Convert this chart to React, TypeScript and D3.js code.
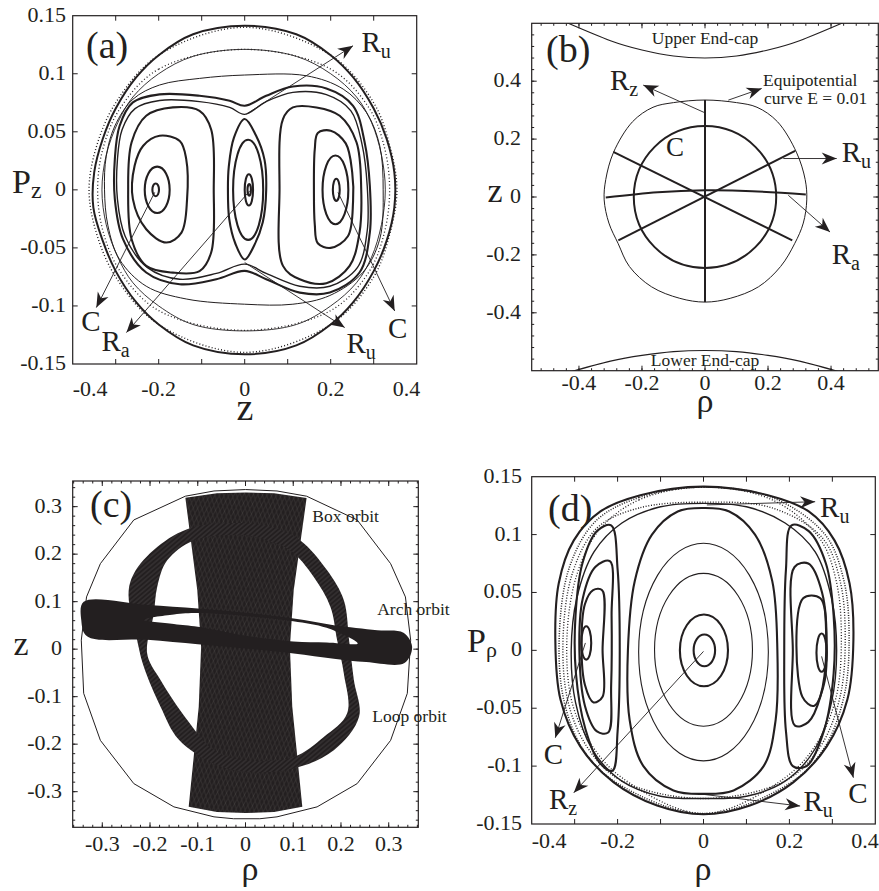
import React from 'react';
import * as d3 from 'd3';

type Pt = [number, number];

const FONT = '"Liberation Serif", "Times New Roman", serif';
const INK = '#231f20';

// ---------------- panel (a): z vs Pz ----------------
const aXTicks = [-0.3, -0.2, -0.1, 0, 0.1, 0.2, 0.3];
const aXLabels = [-0.4, -0.2, 0, 0.2, 0.4];
const aYTicks = [-0.1, -0.05, 0, 0.05, 0.1];
const aYLabels = [-0.15, -0.1, -0.05, 0, 0.05, 0.1, 0.15];

const aOuter: Pt[] = [[0, 0.1414], [-0.12, 0.134], [-0.2, 0.116], [-0.252, 0.097], [-0.3, 0.07], [-0.33, 0.044], [-0.35, 0.015], [-0.352, -0.015], [-0.33, -0.044], [-0.3, -0.07], [-0.252, -0.097], [-0.2, -0.116], [-0.12, -0.134], [0, -0.1417], [0.12, -0.134], [0.2, -0.116], [0.252, -0.097], [0.3, -0.07], [0.33, -0.044], [0.348, -0.015], [0.348, 0.015], [0.33, 0.044], [0.3, 0.07], [0.252, 0.097], [0.2, 0.116], [0.12, 0.134]];
const aDots1: Pt[] = [[0, 0.14], [-0.2, 0.116], [-0.3, 0.075], [-0.345, 0.037], [-0.362, 0], [-0.345, -0.037], [-0.3, -0.075], [-0.2, -0.116], [0, -0.14], [0.2, -0.116], [0.3, -0.075], [0.338, -0.037], [0.354, 0], [0.338, 0.037], [0.3, 0.075], [0.2, 0.116]];
const aDots2: Pt[] = [[0, 0.121], [-0.2, 0.104], [-0.29, 0.07], [-0.33, 0.035], [-0.342, 0], [-0.33, -0.035], [-0.29, -0.07], [-0.2, -0.104], [0, -0.121], [0.2, -0.104], [0.29, -0.07], [0.326, -0.035], [0.337, 0], [0.326, 0.035], [0.29, 0.07], [0.2, 0.104]];
const aRing2: Pt[] = [[0, 0.121], [-0.12, 0.115], [-0.2, 0.1], [-0.26, 0.08], [-0.295, 0.058], [-0.322, 0.03], [-0.332, 0], [-0.322, -0.03], [-0.295, -0.058], [-0.26, -0.08], [-0.2, -0.1], [-0.12, -0.116], [0, -0.1215], [0.12, -0.116], [0.2, -0.1], [0.26, -0.08], [0.295, -0.058], [0.318, -0.03], [0.327, 0], [0.318, 0.03], [0.295, 0.058], [0.26, 0.08], [0.2, 0.1], [0.12, 0.115]];
const aRing3: Pt[] = [[0, 0.0989], [-0.105, 0.096], [-0.198, 0.0903], [-0.26, 0.078], [-0.302, 0.055], [-0.322, 0.029], [-0.326, 0], [-0.318, -0.031], [-0.291, -0.06], [-0.229, -0.083], [-0.136, -0.094], [0, -0.0985], [0.112, -0.0985], [0.198, -0.091], [0.275, -0.071], [0.314, -0.0425], [0.322, 0], [0.314, 0.038], [0.283, 0.0667], [0.229, 0.0868], [0.143, 0.0983]];
const aSep: Pt[] = [[0, 0.0724], [-0.035, 0.0767], [-0.105, 0.081], [-0.198, 0.0822], [-0.26, 0.0753], [-0.291, 0.055], [-0.302, 0.0265], [-0.302, -0.008], [-0.283, -0.0425], [-0.229, -0.0712], [-0.151, -0.0813], [-0.066, -0.077], [0, -0.0698], [0.05, -0.077], [0.128, -0.0885], [0.198, -0.0885], [0.267, -0.0712], [0.291, -0.0368], [0.291, 0.0035], [0.279, 0.0408], [0.252, 0.0724], [0.19, 0.0874], [0.112, 0.089], [0.05, 0.081]];
const aSepInner: Pt[] = [[0, 0.065], [-0.035, 0.071], [-0.105, 0.076], [-0.198, 0.077], [-0.255, 0.07], [-0.285, 0.052], [-0.296, 0.026], [-0.296, -0.008], [-0.278, -0.04], [-0.226, -0.067], [-0.151, -0.077], [-0.066, -0.072], [0, -0.064], [0.05, -0.072], [0.128, -0.083], [0.198, -0.083], [0.262, -0.067], [0.285, -0.035], [0.285, 0.003], [0.273, 0.039], [0.247, 0.068], [0.19, 0.082], [0.112, 0.084], [0.05, 0.076]];
const aLobeL1: Pt[] = [[-0.167, 0.071], [-0.105, 0.068], [-0.078, 0.052], [-0.072, 0], [-0.078, -0.054], [-0.105, -0.07], [-0.167, -0.0713], [-0.229, -0.0655], [-0.263, -0.0425], [-0.271, 0], [-0.263, 0.041], [-0.229, 0.0638]];
const aLobeL2: Pt[] = [[-0.198, 0.0466], [-0.151, 0.042], [-0.136, 0.0265], [-0.134, -0.008], [-0.147, -0.0368], [-0.182, -0.0454], [-0.229, -0.0339], [-0.26, -0.008], [-0.256, 0.0207], [-0.236, 0.038]];
const aLobeM1: Pt[] = [[0, 0.061], [-0.025, 0.045], [-0.037, 0.02], [-0.039, 0], [-0.036, -0.025], [-0.022, -0.046], [0, -0.06], [0.022, -0.048], [0.042, -0.028], [0.05, 0], [0.046, 0.026], [0.026, 0.047]];
const aLobeR1: Pt[] = [[0.112, 0.071], [0.089, 0.061], [0.081, 0], [0.089, -0.0655], [0.128, -0.077], [0.19, -0.0804], [0.244, -0.0655], [0.267, -0.0368], [0.271, 0], [0.26, 0.041], [0.221, 0.0638], [0.167, 0.071]];
const aLobeR2: Pt[] = [[0.163, 0.035], [0.17, 0.049], [0.2, 0.051], [0.235, 0.04], [0.25, 0.015], [0.252, -0.01], [0.24, -0.04], [0.2, -0.05], [0.17, -0.046], [0.163, -0.03], [0.161, 0]];
// small islands: [centre z, centre Pz, half-width, half-height]
const aIslands: [number, number, number, number][] = [[-0.2035, 0, 0.029, 0.02], [-0.207, 0, 0.0077, 0.0055], [0.008, 0, 0.035, 0.0431], [0.0097, 0, 0.0097, 0.0135], [0.0105, 0, 0.004, 0.005], [0.211, 0, 0.03, 0.0296], [0.213, 0, 0.008, 0.0095]];
const aArrows: [Pt, Pt][] = [[[0.004, 0.0653], [0.2519, 0.1241]], [[0, -0.0626], [0.2326, -0.1186]], [[-0.2093, -0.0022], [-0.345, -0.1014]], [[0.0116, -0.0009], [-0.275, -0.1229]], [[0.217, -0.0022], [0.3488, -0.1043]]];
const aTags: [string, string, number, number][] = [['R', 'u', 0.2714, 0.1187], ['R', 'u', 0.2365, -0.1402], ['C', '', -0.38, -0.1216], ['R', 'a', -0.3333, -0.1388], ['C', '', 0.3333, -0.1272]];

// ---------------- panel (b): rho vs z ----------------
const bXLabels = [-0.4, -0.2, 0, 0.2, 0.4];
const bYLabels = [-0.4, -0.2, 0, 0.2, 0.4];
const bEquip: Pt[] = [[0, 0.335], [0.1, 0.326], [0.165, 0.31], [0.23, 0.26], [0.29, 0.155], [0.318, 0.06], [0.323, -0.01], [0.312, -0.09], [0.285, -0.16], [0.24, -0.24], [0.17, -0.31], [0.08, -0.35], [0, -0.363], [-0.08, -0.35], [-0.17, -0.31], [-0.24, -0.24], [-0.276, -0.16], [-0.305, -0.09], [-0.32, -0.01], [-0.315, 0.06], [-0.29, 0.155], [-0.23, 0.26], [-0.165, 0.31], [-0.1, 0.326]];
const bUpperCapRho = [-0.44, -0.3, -0.2, -0.1, 0, 0.1, 0.2, 0.3, 0.44];
const bUpperCapZ = [0.603, 0.54, 0.508, 0.487, 0.48, 0.487, 0.508, 0.54, 0.603];
const bLowerCapRho = [-0.43, -0.3, -0.2, -0.1, 0, 0.1, 0.2, 0.3, 0.43];
const bLowerCapZ = [-0.605, -0.567, -0.547, -0.534, -0.53, -0.534, -0.547, -0.567, -0.605];
const bCircleC: [number, number] = [0.226, 0.245];
const bStraight: [Pt, Pt][] = [[[0, 0.335], [0, -0.363]], [[-0.291, 0.156], [0.277, -0.15]], [[-0.275, -0.15], [0.286, 0.159]]];
const bArchOrbit: Pt[] = [[-0.315, -0.002], [-0.15, 0.016], [0, 0.023], [0.15, 0.02], [0.32, 0.009]];
const bArrows: [Pt, Pt][] = [[[0, 0.2907], [-0.196, 0.3865]], [[0.074, 0.3346], [0.18, 0.375]], [[0.2486, 0.1329], [0.418, 0.1329]], [[0.2644, 0.0059], [0.3968, -0.1211]]];
const bTags: [string, string, number, number][] = [['R', 'z', -0.3016, 0.369], ['R', 'u', 0.434, 0.121], ['R', 'a', 0.402, -0.2305]];

// ---------------- panel (c): orbits in rho-z ----------------
const cXLabels = [-0.3, -0.2, -0.1, 0, 0.1, 0.2, 0.3];
const cYLabels = [-0.3, -0.2, -0.1, 0, 0.1, 0.2, 0.3];
const cBoundary: Pt[] = [[0, 0.336], [-0.066, 0.333], [-0.126, 0.322], [-0.234, 0.272], [-0.304, 0.18], [-0.333, 0.11], [-0.344, 0.019], [-0.339, -0.093], [-0.304, -0.192], [-0.234, -0.283], [-0.15, -0.332], [-0.066, -0.353], [-0.025, -0.357], [0.03, -0.357], [0.066, -0.353], [0.15, -0.332], [0.234, -0.283], [0.304, -0.192], [0.339, -0.093], [0.346, 0.019], [0.335, 0.11], [0.304, 0.18], [0.234, 0.272], [0.128, 0.322], [0.066, 0.333]];
const cBox: Pt[] = [[-0.126, 0.319], [-0.06, 0.328], [0, 0.33], [0.06, 0.328], [0.128, 0.318], [0.101, 0.124], [0.093, 0.005], [0.098, -0.121], [0.119, -0.332], [0.06, -0.343], [0, -0.345], [-0.06, -0.343], [-0.119, -0.332], [-0.098, -0.121], [-0.093, 0.005], [-0.101, 0.124]];
const cLoopOuter: Pt[] = [[0, 0.265], [-0.112, 0.256], [-0.185, 0.215], [-0.234, 0.159], [-0.245, 0.117], [-0.227, 0.019], [-0.213, -0.037], [-0.178, -0.121], [-0.14, -0.19], [-0.066, -0.241], [0, -0.258], [0.101, -0.251], [0.185, -0.213], [0.238, -0.142], [0.227, -0.065], [0.217, 0.019], [0.206, 0.103], [0.171, 0.166], [0.115, 0.229], [0.059, 0.256]];
const cLoopInner: Pt[] = [[0, 0.24], [-0.108, 0.229], [-0.164, 0.187], [-0.185, 0.131], [-0.192, 0.075], [-0.206, -0.009], [-0.178, -0.065], [-0.122, -0.149], [-0.066, -0.213], [0, -0.234], [0.101, -0.227], [0.164, -0.185], [0.213, -0.135], [0.206, -0.051], [0.192, 0.019], [0.178, 0.089], [0.143, 0.152], [0.094, 0.208], [0.045, 0.229]];
const cArchOuter: Pt[] = [[-0.344, 0.061], [-0.339, 0.0996], [-0.206, 0.093], [-0.1, 0.0856], [0, 0.0765], [0.101, 0.0646], [0.185, 0.0505], [0.276, 0.04], [0.331, 0.0345], [0.349, 0.005], [0.333, -0.029], [0.253, -0.027], [0.185, -0.02], [0.101, -0.009], [0, 0.0015], [-0.1, 0.0105], [-0.206, 0.02], [-0.332, 0.027]];
const cArchHole: Pt[] = [[-0.215, 0.062], [-0.15, 0.073], [-0.1, 0.076], [0, 0.07], [0.1, 0.059], [0.17, 0.045], [0.235, 0.012], [0.17, 0.014], [0.1, 0.016], [0, 0.028], [-0.1, 0.047], [-0.15, 0.053]];
const cNotes: [string, number, number][] = [['Box orbit', 0.14, 0.268], ['Arch orbit', 0.276, 0.0716], ['Loop orbit', 0.2656, -0.153]];

// ---------------- panel (d): rho vs P_rho ----------------
const dXTicks = [-0.3, -0.2, -0.1, 0, 0.1, 0.2, 0.3];
const dXLabels = [-0.4, -0.2, 0, 0.2, 0.4];
const dYTicks = [-0.1, -0.05, 0, 0.05, 0.1];
const dYLabels = [-0.15, -0.1, -0.05, 0, 0.05, 0.1, 0.15];
const dOuter: Pt[] = [[0, 0.1414], [-0.147, 0.134], [-0.24, 0.12], [-0.302, 0.095], [-0.337, 0.058], [-0.345, 0.009], [-0.333, -0.0425], [-0.287, -0.083], [-0.209, -0.114], [-0.108, -0.134], [0, -0.1416], [0.108, -0.134], [0.209, -0.114], [0.287, -0.083], [0.335, -0.0425], [0.349, 0.009], [0.34, 0.058], [0.305, 0.095], [0.245, 0.12], [0.15, 0.134]];
const dDots1: Pt[] = [[0, 0.141], [-0.15, 0.132], [-0.25, 0.112], [-0.312, 0.072], [-0.336, 0.01], [-0.324, -0.045], [-0.278, -0.087], [-0.2, -0.115], [0, -0.141], [0.2, -0.115], [0.28, -0.085], [0.327, -0.04], [0.339, 0.01], [0.327, 0.06], [0.283, 0.1], [0.16, 0.132]];
const dDots2: Pt[] = [[0, 0.128], [-0.15, 0.123], [-0.247, 0.106], [-0.304, 0.068], [-0.327, 0.01], [-0.315, -0.045], [-0.27, -0.084], [-0.194, -0.112], [0, -0.128], [0.194, -0.112], [0.274, -0.082], [0.318, -0.04], [0.33, 0.01], [0.318, 0.06], [0.277, 0.097], [0.16, 0.123]];
const dDots3: Pt[] = [[0, 0.141], [-0.15, 0.13], [-0.243, 0.104], [-0.296, 0.064], [-0.318, 0.01], [-0.306, -0.045], [-0.262, -0.081], [-0.19, -0.11], [0, -0.141], [0.19, -0.11], [0.266, -0.079], [0.309, -0.04], [0.321, 0.01], [0.309, 0.06], [0.27, 0.097], [0.16, 0.13]];
const dRing2: Pt[] = [[0, 0.127], [-0.1, 0.124], [-0.19, 0.11], [-0.255, 0.085], [-0.295, 0.045], [-0.308, 0], [-0.298, -0.045], [-0.26, -0.085], [-0.19, -0.113], [-0.1, -0.126], [0, -0.128], [0.1, -0.126], [0.19, -0.113], [0.26, -0.085], [0.298, -0.045], [0.31, 0], [0.298, 0.045], [0.26, 0.085], [0.19, 0.11], [0.1, 0.124]];
const dSep: Pt[] = [[0, 0.123], [-0.06, 0.12], [-0.12, 0.1], [-0.16, 0.06], [-0.176, 0], [-0.172, -0.06], [-0.14, -0.1], [-0.07, -0.121], [0, -0.124], [0.07, -0.121], [0.14, -0.1], [0.168, -0.06], [0.172, 0], [0.16, 0.06], [0.12, 0.1], [0.06, 0.12]];
const dLobeL1: Pt[] = [[-0.215, 0.108], [-0.2, 0.07], [-0.195, 0], [-0.2, -0.07], [-0.212, -0.104], [-0.242, -0.097], [-0.275, -0.068], [-0.297, -0.02], [-0.298, 0.03], [-0.282, 0.075], [-0.248, 0.103]];
const dLobeL2: Pt[] = [[-0.218, 0.077], [-0.214, 0.03], [-0.215, -0.03], [-0.222, -0.071], [-0.248, -0.07], [-0.276, -0.048], [-0.289, 0], [-0.281, 0.045], [-0.252, 0.072]];
const dLobeL3: Pt[] = [[-0.236, 0.052], [-0.235, 0], [-0.235, -0.04], [-0.256, -0.045], [-0.276, -0.03], [-0.284, 0.005], [-0.276, 0.04], [-0.257, 0.052]];
const dLobeR1: Pt[] = [[0.205, 0.108], [0.192, 0.07], [0.188, 0], [0.192, -0.07], [0.208, -0.1], [0.24, -0.1], [0.28, -0.07], [0.303, -0.02], [0.303, 0.03], [0.285, 0.075], [0.245, 0.103]];
const dLobeR2: Pt[] = [[0.212, 0.072], [0.208, 0.0], [0.213, -0.065], [0.244, -0.062], [0.272, -0.04], [0.286, 0], [0.276, 0.05], [0.244, 0.075]];
const dLobeR3: Pt[] = [[0.232, 0.045], [0.23, -0.04], [0.257, -0.048], [0.28, -0.03], [0.286, 0.01], [0.272, 0.045]];
// [centre rho, centre P, half-width, half-height]
const dThinRings: [number, number, number, number][] = [[0, 0.0005, 0.114, 0.066], [0, -0.0015, 0.151, 0.094]];
const dThickRings: [number, number, number, number][] = [[0.002, 0, 0.025, 0.0137], [0.001, 0, 0.056, 0.031], [-0.273, 0.0064, 0.0116, 0.0144], [0.275, -0.002, 0.012, 0.0165]];
const dArrows: [Pt, Pt][] = [[[0.0079, 0.1256], [0.26, 0.1284]], [[-0.275, 0.0064], [-0.345, -0.0755]], [[0, -0.0009], [-0.302, -0.123]], [[0, -0.1244], [0.225, -0.1345]], [[0.275, -0.0052], [0.349, -0.11]]];
const dTags: [string, string, number, number][] = [['R', 'u', 0.2714, 0.115], ['C', '', -0.372, -0.0985], ['R', 'z', -0.36, -0.1373], ['R', 'u', 0.2326, -0.1388], ['C', '', 0.337, -0.1316]];

// ---------------- scales ----------------
const ax = d3.scaleLinear().domain([-0.4, 0.4]).range([72.7, 416.7]);
const ay = d3.scaleLinear().domain([-0.15, 0.15]).range([364, 15.7]);
const bx = d3.scaleLinear().domain([-0.55, 0.55]).range([531.7, 878.3]);
const by = d3.scaleLinear().domain([-0.6, 0.6]).range([370.7, 23.3]);
const cx = d3.scaleLinear().domain([-0.362, 0.362]).range([72.7, 418.3]);
const cy = d3.scaleLinear().domain([-0.375, 0.354]).range([827.3, 481]);
const dx = d3.scaleLinear().domain([-0.4, 0.4]).range([531.7, 875.3]);
const dy = d3.scaleLinear().domain([-0.15, 0.15]).range([824, 476.7]);

type S = d3.ScaleLinear<number, number>;

const smooth = (pts: Pt[], xs: S, ys: S) =>
  d3.line<Pt>().x(d => xs(d[0])).y(d => ys(d[1])).curve(d3.curveCatmullRomClosed.alpha(0.5))(pts) || '';
const poly = (pts: Pt[], xs: S, ys: S) =>
  d3.line<Pt>().x(d => xs(d[0])).y(d => ys(d[1])).curve(d3.curveLinearClosed)(pts) || '';
const open = (pts: Pt[], xs: S, ys: S) =>
  d3.line<Pt>().x(d => xs(d[0])).y(d => ys(d[1])).curve(d3.curveNatural)(pts) || '';

const fmt = (v: number) => String(+v.toFixed(3));

function Frame(props: {
  xs: S; ys: S; xMajor: number[]; yMajor: number[]; xMinor?: number[]; yMinor?: number[];
  xLabels: number[]; yLabels: number[]; xBase: number; yEnd: number;
}) {
  const { xs, ys, xMajor, yMajor, xMinor = [], yMinor = [], xLabels, yLabels, xBase, yEnd } = props;
  const [l, r] = xs.range();
  const [b, t] = ys.range();
  const [d0, d1] = xs.domain();
  const tk = (v: number, len: number, key: string, axis: 'x' | 'y') =>
    axis === 'x' ? (
      <g key={key}>
        <line x1={xs(v)} x2={xs(v)} y1={b} y2={b - len} />
        <line x1={xs(v)} x2={xs(v)} y1={t} y2={t + len} />
      </g>
    ) : (
      <g key={key}>
        <line x1={l} x2={l + len} y1={ys(v)} y2={ys(v)} />
        <line x1={r} x2={r - len} y1={ys(v)} y2={ys(v)} />
      </g>
    );
  // labels on the very edge of the frame are pulled inside it, as in the original
  const xLab = (v: number) => {
    if (Math.abs(v - d0) < 1e-9) return { x: l, anchor: 'start' };
    if (Math.abs(v - d1) < 1e-9) return { x: r + 3.5, anchor: 'end' };
    return { x: xs(v), anchor: 'middle' };
  };
  return (
    <g>
      <g stroke={INK} strokeWidth={1}>
        {xMinor.map((v, i) => tk(v, 2.5, 'xm' + i, 'x'))}
        {yMinor.map((v, i) => tk(v, 2.5, 'ym' + i, 'y'))}
        {xMajor.map((v, i) => tk(v, 5, 'xM' + i, 'x'))}
        {yMajor.map((v, i) => tk(v, 5, 'yM' + i, 'y'))}
      </g>
      <rect x={l} y={t} width={r - l} height={b - t} fill="none" stroke={INK} strokeWidth={1.2} />
      <g fontSize={22} fill={INK}>
        {xLabels.map(v => {
          const p = xLab(v);
          return <text key={'xl' + v} x={p.x} y={xBase} textAnchor={p.anchor}>{fmt(v)}</text>;
        })}
        {yLabels.map(v => (
          <text key={'yl' + v} x={yEnd} y={ys(v) + 6} textAnchor="end">{fmt(v)}</text>
        ))}
      </g>
    </g>
  );
}

function Tag({ main, sub, x, y }: { main: string; sub: string; x: number; y: number }) {
  return (
    <text x={x} y={y} fontSize={29} fill={INK}>
      {main}
      {sub && <tspan fontSize={20} dy={6}>{sub}</tspan>}
    </text>
  );
}

function Arrows({ list, xs, ys }: { list: [Pt, Pt][]; xs: S; ys: S }) {
  return (
    <g stroke={INK} strokeWidth={0.9}>
      {list.map(([a, b], i) => (
        <line key={i} x1={xs(a[0])} y1={ys(a[1])} x2={xs(b[0])} y2={ys(b[1])} markerEnd="url(#ahead)" />
      ))}
    </g>
  );
}

const ellipse = (e: [number, number, number, number], xs: S, ys: S, w: number, key: string) => (
  <ellipse key={key} cx={xs(e[0])} cy={ys(e[1])} rx={xs(e[0] + e[2]) - xs(e[0])} ry={ys(e[1]) - ys(e[1] + e[3])}
    fill="none" stroke={INK} strokeWidth={w} />
);

export default function App() {
  const bMinorX = d3.range(-0.52, 0.53, 0.04);
  const bMinorY = d3.range(-0.56, 0.57, 0.04);
  const cMinorX = d3.range(-0.36, 0.361, 0.02);
  const cMinorY = d3.range(-0.36, 0.35, 0.02);

  const aCurves: [Pt[], number, string?][] = [
    [aDots1, 1.4, '1 2.2'], [aDots2, 1.3, '1 2.4'], [aOuter, 2], [aRing2, 0.9], [aRing3, 1],
    [aSep, 2.1], [aSepInner, 1.4], [aLobeL1, 2.1], [aLobeL2, 2.1], [aLobeM1, 2.1], [aLobeR1, 2.1], [aLobeR2, 2.1],
  ];
  const dCurves: [Pt[], number, string?][] = [
    [dDots1, 1.5, '1 1.5'], [dDots2, 1.4, '1 1.7'], [dDots3, 1.3, '1 1.9'], [dOuter, 2.1], [dRing2, 1.4], [dSep, 2.1],
    [dLobeL1, 2.1], [dLobeL2, 2.1], [dLobeL3, 2.1], [dLobeR1, 2.1], [dLobeR2, 2.1], [dLobeR3, 2.1],
  ];
  const capLine = (rho: number[], z: number[]) =>
    d3.line<number>().x(v => bx(v)).y((_, i) => by(z[i])).curve(d3.curveNatural)(rho) || '';

  return (
    <svg width={879} height={891} style={{ position: 'absolute', left: 0, top: 0, background: '#fff' }}
      fontFamily={FONT}>
      <defs>
        <marker id="ahead" viewBox="-16 -7 17 14" refX={0} refY={0} markerWidth={17} markerHeight={14}
          orient="auto" markerUnits="userSpaceOnUse">
          <path d="M0,0 L-15,-6 L-10.5,0 L-15,6 Z" fill={INK} />
        </marker>
        <pattern id="boxHatch" width={4.5} height={10} patternUnits="userSpaceOnUse" patternTransform="rotate(6)">
          <rect width={4.5} height={10} fill={INK} />
          <line x1={0} y1={0} x2={4.5} y2={10} stroke="#57534f" strokeWidth={0.35} />
          <line x1={4.5} y1={0} x2={0} y2={10} stroke="#57534f" strokeWidth={0.35} />
        </pattern>
        <pattern id="loopHatch" width={3.5} height={3.5} patternUnits="userSpaceOnUse" patternTransform="rotate(-40)">
          <rect width={3.5} height={3.5} fill={INK} />
          <line x1={0} y1={1.75} x2={3.5} y2={1.75} stroke="#7a7677" strokeWidth={0.3} />
        </pattern>
        <clipPath id="clipB">
          <rect x={531.7} y={23.3} width={346.6} height={347.4} />
        </clipPath>
      </defs>

      {/* ---------- (a) ---------- */}
      <g>
        <g fill="none" stroke={INK} strokeLinejoin="round">
          {aCurves.map(([pts, w, dash], i) => (
            <path key={i} d={smooth(pts, ax, ay)} strokeWidth={w} strokeDasharray={dash} />
          ))}
          {aIslands.map((e, i) => ellipse(e, ax, ay, 2.1, 'ai' + i))}
        </g>
        <Arrows list={aArrows} xs={ax} ys={ay} />
        {aTags.map(([m, s, x, y], i) => <Tag key={i} main={m} sub={s} x={ax(x)} y={ay(y)} />)}
        <Frame xs={ax} ys={ay} xMajor={aXTicks} yMajor={aYTicks} xLabels={aXLabels} yLabels={aYLabels} xBase={396} yEnd={66} />
        <text x={86} y={58} fontSize={38} fill={INK}>(a)</text>
        <text x={245} y={420} fontSize={38} textAnchor="middle" fill={INK}>z</text>
        <text x={12} y={193} fontSize={34} fill={INK}>P<tspan fontSize={24} dy={5}>z</tspan></text>
      </g>

      {/* ---------- (b) ---------- */}
      <g>
        <g fill="none" stroke={INK} clipPath="url(#clipB)">
          <path d={capLine(bUpperCapRho, bUpperCapZ)} strokeWidth={1.1} />
          <path d={capLine(bLowerCapRho, bLowerCapZ)} strokeWidth={1.1} />
        </g>
        <g fill="none" stroke={INK}>
          <path d={smooth(bEquip, bx, by)} strokeWidth={1} />
          <ellipse cx={bx(0)} cy={by(0)} rx={bx(bCircleC[0]) - bx(0)} ry={by(0) - by(bCircleC[1])} strokeWidth={2} />
          {bStraight.map(([a, b], i) => (
            <line key={i} x1={bx(a[0])} y1={by(a[1])} x2={bx(b[0])} y2={by(b[1])} strokeWidth={2} />
          ))}
          <path d={open(bArchOrbit, bx, by)} strokeWidth={2} />
        </g>
        <Arrows list={bArrows} xs={bx} ys={by} />
        {bTags.map(([m, s, x, y], i) => <Tag key={i} main={m} sub={s} x={bx(x)} y={by(y)} />)}
        <g fontSize={17.5} fill={INK}>
          <text x={bx(0)} y={44} textAnchor="middle">Upper End-cap</text>
          <text x={bx(0)} y={366} textAnchor="middle">Lower End-cap</text>
          <text x={763} y={86}>Equipotential</text>
          <text x={764} y={104}>curve E = 0.01</text>
        </g>
        <text x={675} y={156} fontSize={27} textAnchor="middle" fill={INK}>C</text>
        <Frame xs={bx} ys={by} xMajor={bXLabels} yMajor={bYLabels} xMinor={bMinorX} yMinor={bMinorY}
          xLabels={bXLabels} yLabels={bYLabels} xBase={390} yEnd={521} />
        <text x={546} y={62} fontSize={38} fill={INK}>(b)</text>
        <text x={495} y={202} fontSize={34} textAnchor="middle" fill={INK}>z</text>
        <text x={705} y={412} fontSize={34} textAnchor="middle" fill={INK}>ρ</text>
      </g>

      {/* ---------- (c) ---------- */}
      <g>
        <path d={poly(cBoundary, cx, cy)} fill="none" stroke={INK} strokeWidth={1} />
        <path d={poly(cBox, cx, cy)} fill="url(#boxHatch)" />
        <path d={smooth(cLoopOuter, cx, cy) + smooth(cLoopInner, cx, cy)} fill="url(#loopHatch)" fillRule="evenodd" />
        <path d={smooth(cArchOuter, cx, cy) + smooth(cArchHole, cx, cy)} fill={INK} fillRule="evenodd" />
        <g fontSize={17.5} fill={INK}>
          {cNotes.map(([s, x, y]) => <text key={s} x={cx(x)} y={cy(y)}>{s}</text>)}
        </g>
        <Frame xs={cx} ys={cy} xMajor={cXLabels} yMajor={cYLabels} xMinor={cMinorX} yMinor={cMinorY}
          xLabels={cXLabels} yLabels={cYLabels} xBase={851} yEnd={62} />
        <text x={90} y={517} fontSize={38} fill={INK}>(c)</text>
        <text x={21} y={655} fontSize={34} textAnchor="middle" fill={INK}>z</text>
        <text x={250} y={880} fontSize={34} textAnchor="middle" fill={INK}>ρ</text>
      </g>

      {/* ---------- (d) ---------- */}
      <g>
        <g fill="none" stroke={INK} strokeLinejoin="round">
          {dCurves.map(([pts, w, dash], i) => (
            <path key={i} d={smooth(pts, dx, dy)} strokeWidth={w} strokeDasharray={dash} />
          ))}
          {dThinRings.map((e, i) => ellipse(e, dx, dy, 1.1, 'dt' + i))}
          {dThickRings.map((e, i) => ellipse(e, dx, dy, 2.1, 'dk' + i))}
        </g>
        <Arrows list={dArrows} xs={dx} ys={dy} />
        {dTags.map(([m, s, x, y], i) => <Tag key={i} main={m} sub={s} x={dx(x)} y={dy(y)} />)}
        <Frame xs={dx} ys={dy} xMajor={dXTicks} yMajor={dYTicks} xLabels={dXLabels} yLabels={dYLabels} xBase={848} yEnd={522} />
        <text x={548} y={521} fontSize={38} fill={INK}>(d)</text>
        <text x={467} y={652} fontSize={34} fill={INK}>P<tspan fontSize={22} dy={5}>ρ</tspan></text>
        <text x={703} y={880} fontSize={34} textAnchor="middle" fill={INK}>ρ</text>
      </g>
    </svg>
  );
}
